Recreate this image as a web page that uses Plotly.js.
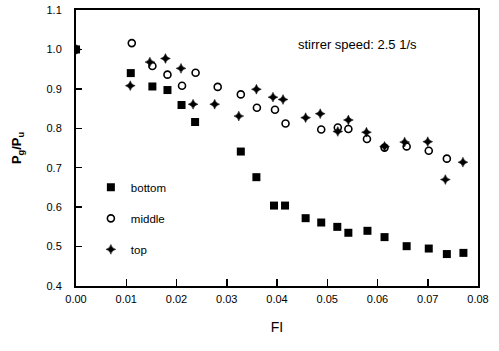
<!DOCTYPE html>
<html>
<head>
<meta charset="utf-8">
<script src="https://cdn.plot.ly/plotly-3.0.1.min.js"></script>
<style>html,body{margin:0;padding:0;background:#fff;}#chart{width:499px;height:351px;}</style>
</head>
<body>
<div id="chart"></div>
<script>
const seriesNames = ["bottom", "middle", "top"];

const bottomX = [0.0, 0.0109, 0.0152, 0.0182, 0.0210, 0.0237, 0.0328, 0.0359, 0.0394, 0.0416, 0.0457, 0.0488, 0.0520, 0.0542, 0.0580, 0.0614, 0.0658, 0.0702, 0.0738, 0.0771];
const bottomY = [1.000, 0.940, 0.906, 0.897, 0.859, 0.816, 0.741, 0.676, 0.604, 0.604, 0.572, 0.561, 0.550, 0.535, 0.540, 0.524, 0.501, 0.495, 0.481, 0.484];

const middleX = [0.0, 0.0111, 0.0152, 0.0182, 0.0211, 0.0238, 0.0282, 0.0328, 0.0360, 0.0396, 0.0417, 0.0488, 0.0521, 0.0542, 0.0579, 0.0614, 0.0658, 0.0702, 0.0738];
const middleY = [1.000, 1.016, 0.958, 0.936, 0.908, 0.941, 0.905, 0.886, 0.852, 0.847, 0.812, 0.797, 0.802, 0.798, 0.773, 0.751, 0.754, 0.743, 0.723];

const topX = [0.0, 0.0108, 0.0147, 0.0178, 0.0209, 0.0233, 0.0276, 0.0324, 0.0359, 0.0392, 0.0412, 0.0457, 0.0486, 0.0521, 0.0542, 0.0578, 0.0614, 0.0654, 0.0700, 0.0735, 0.0770];
const topY = [1.000, 0.908, 0.968, 0.977, 0.952, 0.861, 0.861, 0.831, 0.899, 0.879, 0.873, 0.827, 0.837, 0.792, 0.821, 0.790, 0.754, 0.765, 0.766, 0.670, 0.714];

const xTickVals = [0, 0.01, 0.02, 0.03, 0.04, 0.05, 0.06, 0.07, 0.08];
const xTickText = ["0.00", "0.01", "0.02", "0.03", "0.04", "0.05", "0.06", "0.07", "0.08"];
const yTickVals = [0.4, 0.5, 0.6, 0.7, 0.8, 0.9, 1.0, 1.1];
const yTickText = ["0.4", "0.5", "0.6", "0.7", "0.8", "0.9", "1.0", "1.1"];

const annotationText = "stirrer speed: 2.5 1/s";
const xTitle = "FI";
const yTitle = "<b>P<sub>g</sub>/P<sub>u</sub></b>";

const FONT = "Liberation Sans, Arial, sans-serif";

const traces = [
  {x: bottomX, y: bottomY, name: seriesNames[0], type: "scatter", mode: "markers", legendgroup: "a",
   marker: {symbol: "square", size: 8, color: "#000"}},
  {x: middleX, y: middleY, name: seriesNames[1], type: "scatter", mode: "markers", legendgroup: "b",
   marker: {symbol: "circle-open", size: 7, color: "#000", line: {width: 1.6, color: "#000"}}},
  {x: topX, y: topY, name: seriesNames[2], type: "scatter", mode: "markers", legendgroup: "c",
   marker: {symbol: "star-diamond", size: 7, color: "#000", line: {width: 0.5, color: "#000"}}}
];

const layout = {
  width: 499, height: 351,
  margin: {l: 76, r: 21, t: 10, b: 65},
  paper_bgcolor: "#fff", plot_bgcolor: "#fff",
  font: {family: FONT, size: 11, color: "#000"},
  showlegend: true,
  legend: {x: 0.037, y: 0.41, xanchor: "left", yanchor: "top", bgcolor: "rgba(0,0,0,0)",
           font: {family: FONT, size: 11.5, color: "#000"}, tracegroupgap: 12, borderwidth: 0},
  xaxis: {range: [0, 0.08], tickvals: xTickVals, ticktext: xTickText, ticks: "inside", ticklen: 7,
          tickwidth: 1.5, tickcolor: "#000", showgrid: false, zeroline: false, showline: true,
          linecolor: "#000", linewidth: 2, mirror: true, ticklabelstandoff: 2,
          tickfont: {family: FONT, size: 11, color: "#000"},
          title: {text: xTitle, font: {family: FONT, size: 14, color: "#000"}, standoff: 18}},
  yaxis: {range: [0.4, 1.1], tickvals: yTickVals, ticktext: yTickText, ticks: "inside", ticklen: 6,
          tickwidth: 1.5, tickcolor: "#000", showgrid: false, zeroline: false, showline: true,
          linecolor: "#000", linewidth: 2, mirror: true, ticklabelstandoff: 10,
          tickfont: {family: FONT, size: 11, color: "#000"},
          title: {text: yTitle, font: {family: FONT, size: 13, color: "#000"}, standoff: 22}},
  annotations: [{x: 0.0561, y: 1.012, xref: "x", yref: "y", text: annotationText, showarrow: false,
                 font: {family: FONT, size: 13, color: "#000"}}]
};

Plotly.newPlot("chart", traces, layout, {displayModeBar: false, staticPlot: true});
</script>
</body>
</html>
